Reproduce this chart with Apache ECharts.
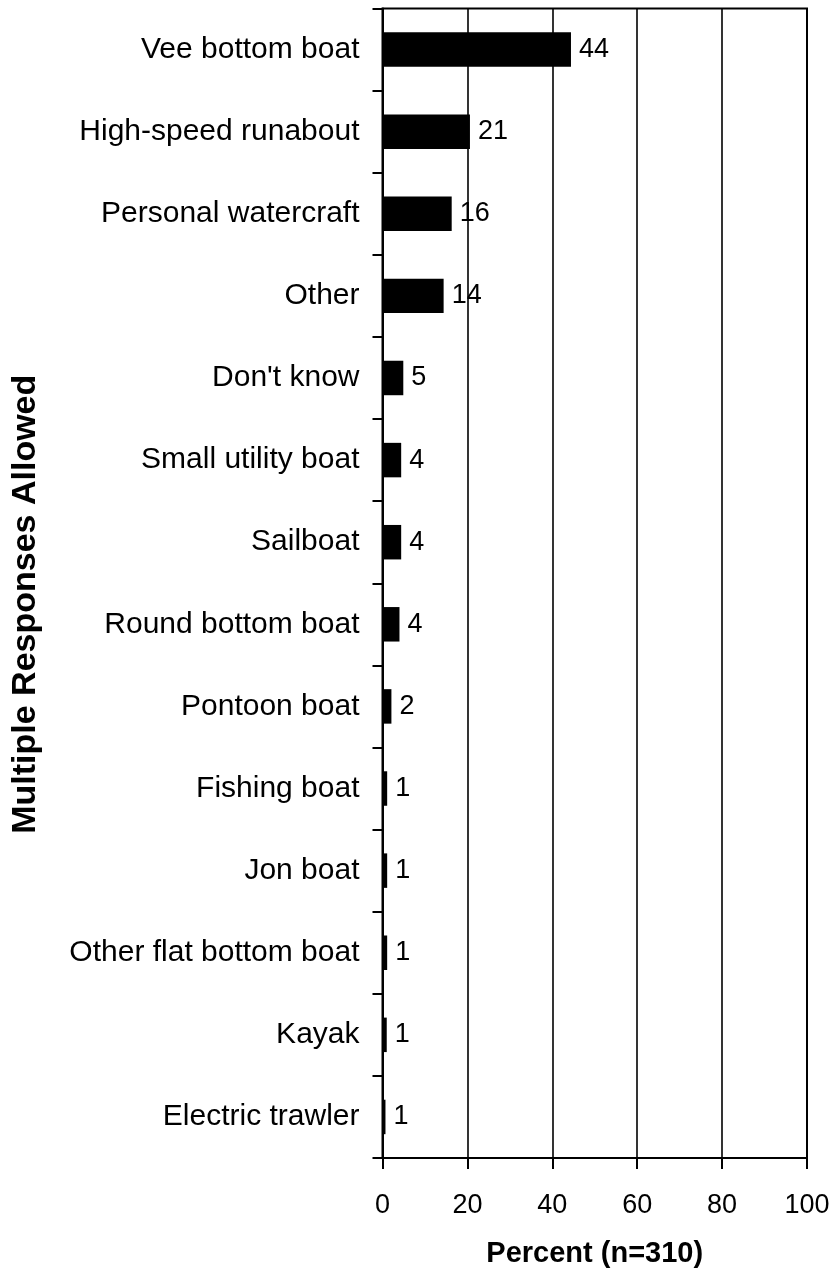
<!DOCTYPE html>
<html>
<head>
<meta charset="utf-8">
<script src="https://cdn.jsdelivr.net/npm/echarts@6/dist/echarts.min.js"></script>
<style>
    html, body { margin: 0; padding: 0; background: #fff; }
    #container { width: 833px; height: 1274px; }
</style>
</head>
<body>
<div id="container"></div>
<script>
// boat types, top to bottom
let category = ['Vee bottom boat', 'High-speed runabout', 'Personal watercraft', 'Other', "Don't know",
    'Small utility boat', 'Sailboat', 'Round bottom boat', 'Pontoon boat', 'Fishing boat',
    'Jon boat', 'Other flat bottom boat', 'Kayak', 'Electric trawler']
// percent (labels show the rounded value)
let percent = [44.4, 20.6, 16.3, 14.4, 4.9, 4.4, 4.4, 4.0, 2.1, 1.1, 1.1, 1.1, 1.0, 0.7]
let xTicks = [0, 20, 40, 60, 80, 100]

let font = 'Liberation Sans, Arial, sans-serif'

let options = {
    animation: false,
    grid: {
        left: 382.5,
        right: 26,
        top: 8.5,
        bottom: 116,
        show: true,
        borderColor: '#000',
        borderWidth: 2
    },
    xAxis: {
        type: 'value',
        min: xTicks[0],
        max: xTicks[xTicks.length - 1],
        interval: xTicks[1] - xTicks[0],
        name: 'Percent (n=310)',
        nameLocation: 'middle',
        nameGap: 81,
        nameTextStyle: {
            color: '#000',
            fontFamily: font,
            fontWeight: 'bold',
            fontSize: 29
        },
        axisLine: {
            show: true,
            lineStyle: { color: '#000', width: 2 }
        },
        axisTick: {
            show: true,
            length: 11,
            lineStyle: { color: '#000', width: 2 }
        },
        axisLabel: {
            color: '#000',
            fontFamily: font,
            fontSize: 27,
            margin: 34
        },
        splitLine: {
            show: true,
            lineStyle: { color: '#000', width: 1.6 }
        }
    },
    yAxis: {
        type: 'category',
        inverse: true,
        data: category,
        name: 'Multiple Responses Allowed',
        nameLocation: 'middle',
        nameRotate: 90,
        nameGap: 340,
        nameTextStyle: {
            color: '#000',
            fontFamily: font,
            fontWeight: 'bold',
            fontSize: 34,
            padding: [0, 42, 0, 0]
        },
        axisLine: {
            show: true,
            lineStyle: { color: '#000', width: 2 }
        },
        axisTick: {
            show: true,
            length: 10,
            lineStyle: { color: '#000', width: 2 }
        },
        axisLabel: {
            color: '#000',
            fontFamily: font,
            fontSize: 30,
            margin: 23,
            interval: 0
        },
        splitLine: { show: false }
    },
    series: [
        {
            type: 'bar',
            data: percent,
            barCategoryGap: '58%',
            itemStyle: { color: '#000' },
            label: {
                show: true,
                position: 'right',
                distance: 8,
                color: '#000',
                fontFamily: font,
                fontSize: 27,
                formatter: p => Math.round(p.value)
            }
        }
    ]
}

let mychart = echarts.init(document.getElementById('container'))
mychart.setOption(options)
</script>
</body>
</html>
